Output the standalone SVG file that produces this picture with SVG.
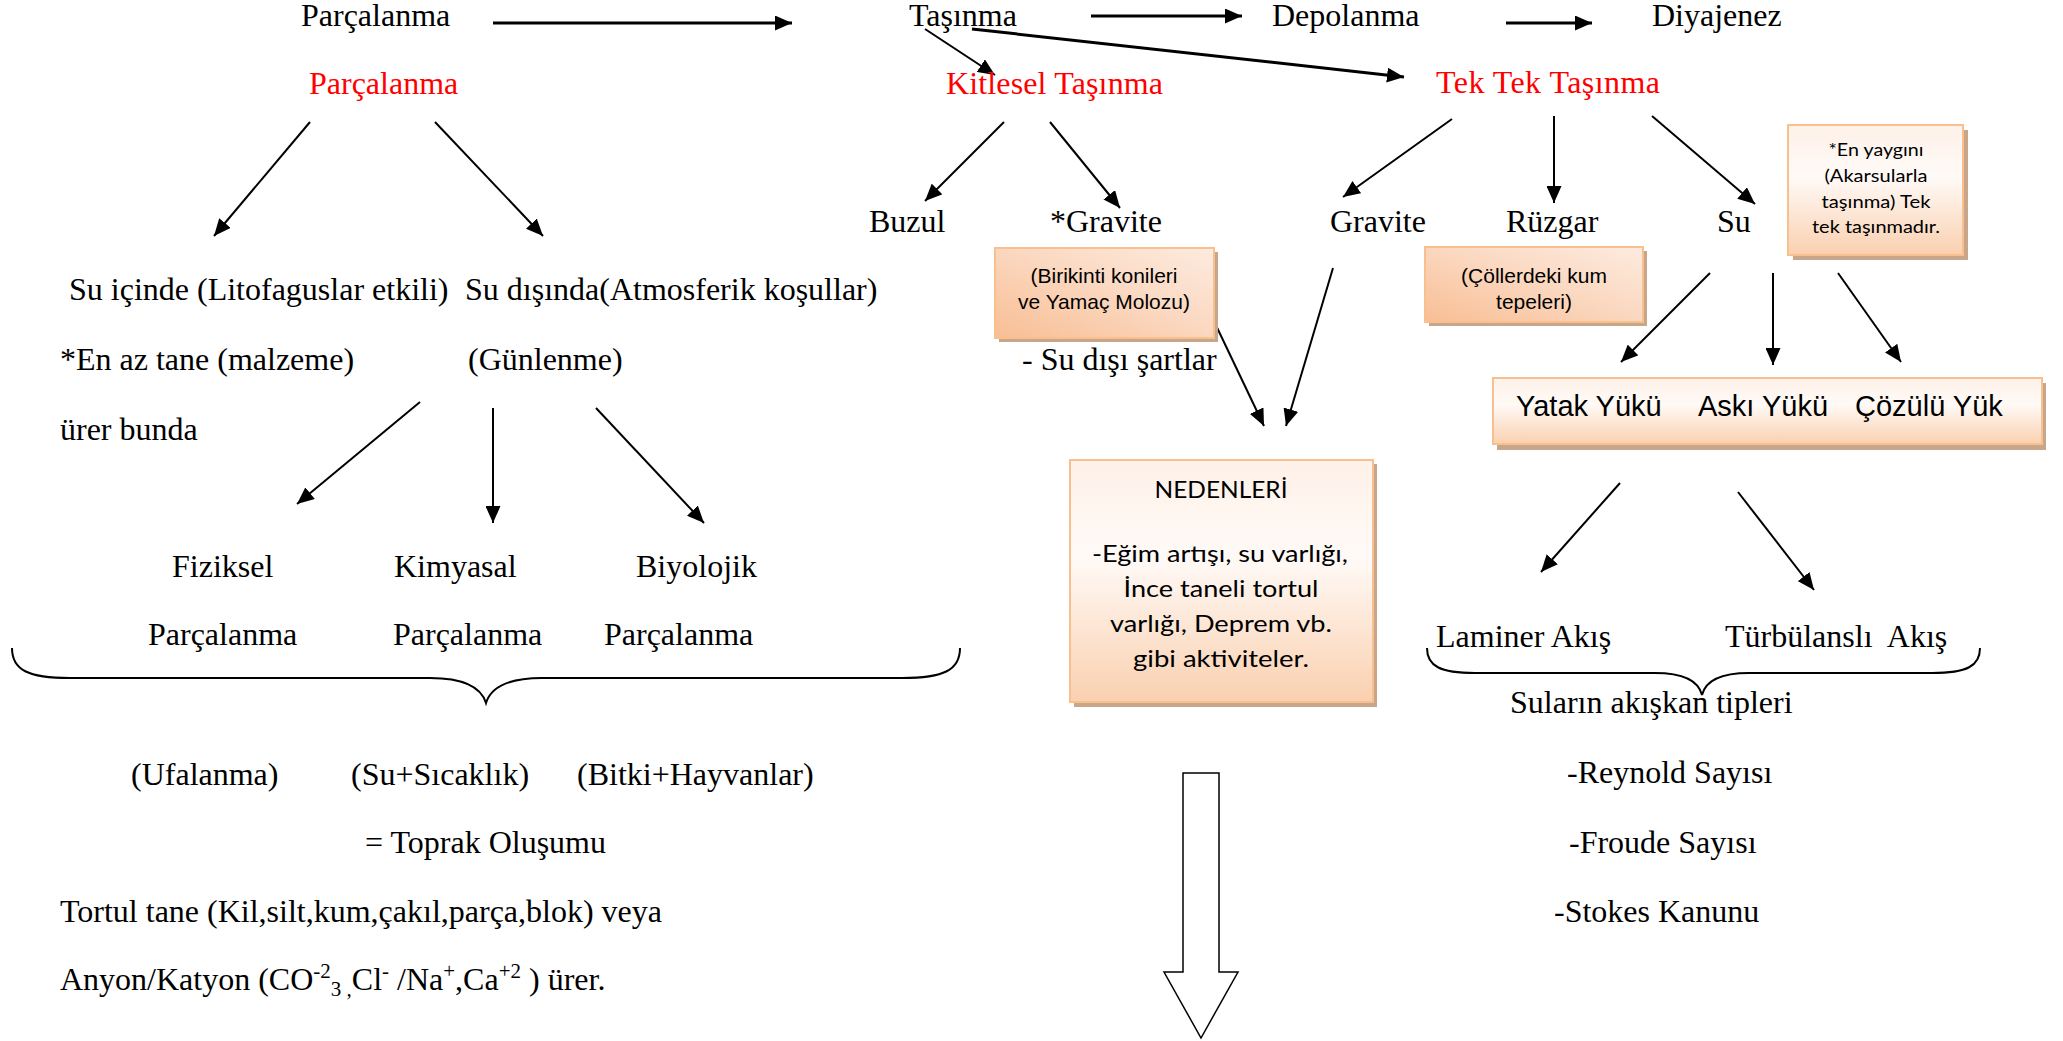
<svg xmlns="http://www.w3.org/2000/svg" width="2063" height="1041" viewBox="0 0 2063 1041">
<style>
.t{font-family:"Liberation Serif","Times New Roman",serif;font-size:32px;fill:#000}
.r{fill:#FF0000}
.a{font-family:"Liberation Sans",Arial,sans-serif;fill:#000}
.c{font-family:Lato,"Open Sans",sans-serif;fill:#000}
.ln{stroke:#000;stroke-width:2;fill:none}
.th{stroke-width:3}
.box{stroke:#F9C08F;stroke-width:2}
.sh{fill:#C9A68A}
</style>
<defs>
<marker id="ah" markerUnits="userSpaceOnUse" markerWidth="18" markerHeight="15" refX="17" refY="7.5" orient="auto">
<path d="M0,0 L17,7.5 L0,15 z" fill="#000"/>
</marker>
<linearGradient id="gd" x1="0" y1="1" x2="1" y2="0">
<stop offset="0" stop-color="#F8BE94"/>
<stop offset="0.55" stop-color="#FBD9C2"/>
<stop offset="1" stop-color="#FDEBDF"/>
</linearGradient>
<linearGradient id="gv" x1="0" y1="0" x2="0" y2="1">
<stop offset="0" stop-color="#FEF1E8"/>
<stop offset="0.4" stop-color="#FFFAF7"/>
<stop offset="1" stop-color="#FAD0AF"/>
</linearGradient>
</defs>

<g id="connectors">
<line class="ln th" x1="493" y1="23" x2="792" y2="23" marker-end="url(#ah)"/>
<line class="ln th" x1="1091" y1="16" x2="1242" y2="16" marker-end="url(#ah)"/>
<line class="ln th" x1="1506" y1="23" x2="1592" y2="23" marker-end="url(#ah)"/>
<line class="ln th" x1="972" y1="29" x2="1404" y2="77" marker-end="url(#ah)"/>
<line class="ln" x1="925" y1="29" x2="995" y2="75" marker-end="url(#ah)"/>
<line class="ln" x1="310" y1="122" x2="214" y2="236" marker-end="url(#ah)"/>
<line class="ln" x1="435" y1="122" x2="543" y2="236" marker-end="url(#ah)"/>
<line class="ln" x1="1004" y1="122" x2="925" y2="201" marker-end="url(#ah)"/>
<line class="ln" x1="1050" y1="122" x2="1120" y2="208" marker-end="url(#ah)"/>
<line class="ln" x1="1452" y1="119" x2="1343" y2="197" marker-end="url(#ah)"/>
<line class="ln" x1="1554" y1="116" x2="1554" y2="203" marker-end="url(#ah)"/>
<line class="ln" x1="1652" y1="116" x2="1755" y2="204" marker-end="url(#ah)"/>
<line class="ln" x1="420" y1="402" x2="297" y2="504" marker-end="url(#ah)"/>
<line class="ln" x1="493" y1="408" x2="493" y2="523" marker-end="url(#ah)"/>
<line class="ln" x1="596" y1="408" x2="704" y2="523" marker-end="url(#ah)"/>
<line class="ln" x1="1212" y1="317" x2="1264" y2="426" marker-end="url(#ah)"/>
<line class="ln" x1="1333" y1="268" x2="1286" y2="426" marker-end="url(#ah)"/>
<line class="ln" x1="1710" y1="273" x2="1621" y2="362" marker-end="url(#ah)"/>
<line class="ln" x1="1773" y1="273" x2="1773" y2="365" marker-end="url(#ah)"/>
<line class="ln" x1="1838" y1="273" x2="1901" y2="362" marker-end="url(#ah)"/>
<line class="ln" x1="1620" y1="483" x2="1541" y2="572" marker-end="url(#ah)"/>
<line class="ln" x1="1738" y1="492" x2="1814" y2="590" marker-end="url(#ah)"/>
<path class="ln" d="M12,648 C12,670 28,678 70,678 L430,678 C468,678 482,690 486,703 C490,690 504,678 542,678 L902,678 C944,678 960,670 960,648"/>
<path class="ln" d="M1427,648 C1427,666 1440,673 1475,673 L1655,673 C1688,673 1699,683 1702,695 C1705,683 1716,673 1749,673 L1932,673 C1967,673 1980,666 1980,648"/>
<polygon points="1183,773 1219,773 1219,972 1238,972 1201,1038 1164,972 1183,972" fill="#fff" stroke="#000" stroke-width="1.5"/>
</g>

<g id="n-parcalanma-top"><text class="t" x="301" y="26">Parçalanma</text></g>
<g id="n-tasinma"><text class="t" x="909" y="26">Taşınma</text></g>
<g id="n-depolanma"><text class="t" x="1272" y="26">Depolanma</text></g>
<g id="n-diyajenez"><text class="t" x="1652" y="26">Diyajenez</text></g>

<g id="n-parcalanma-red"><text class="t r" x="309" y="94">Parçalanma</text></g>
<g id="n-kitlesel"><text class="t r" x="946" y="94" textLength="217" lengthAdjust="spacing">Kitlesel Taşınma</text></g>
<g id="n-tektek"><text class="t r" x="1436" y="93" textLength="224" lengthAdjust="spacing">Tek Tek Taşınma</text></g>

<g id="n-buzul"><text class="t" x="869" y="232">Buzul</text></g>
<g id="n-gravite1"><text class="t" x="1050" y="232">*Gravite</text></g>
<g id="n-gravite2"><text class="t" x="1330" y="232">Gravite</text></g>
<g id="n-ruzgar"><text class="t" x="1506" y="232">Rüzgar</text></g>
<g id="n-su"><text class="t" x="1717" y="232">Su</text></g>

<g id="n-enyaygini">
<rect class="sh" x="1793" y="130" width="175" height="130"/>
<rect class="box" x="1788" y="125" width="175" height="130" fill="url(#gv)"/>
<text class="c" font-size="18" text-anchor="middle" x="1876" y="156" textLength="95" lengthAdjust="spacingAndGlyphs">*En yaygını</text>
<text class="c" font-size="18" text-anchor="middle" x="1876" y="182" textLength="103" lengthAdjust="spacingAndGlyphs">(Akarsularla</text>
<text class="c" font-size="18" text-anchor="middle" x="1876" y="208" textLength="109" lengthAdjust="spacingAndGlyphs">taşınma) Tek</text>
<text class="c" font-size="18" text-anchor="middle" x="1876" y="233" textLength="128" lengthAdjust="spacingAndGlyphs">tek taşınmadır.</text>
</g>

<g id="n-birikinti">
<rect class="sh" x="999" y="252" width="219" height="90"/>
<rect class="box" x="995" y="248" width="219" height="90" fill="url(#gd)"/>
<text class="a" font-size="21" text-anchor="middle" x="1104" y="283">(Birikinti konileri</text>
<text class="a" font-size="21" text-anchor="middle" x="1104" y="309">ve Yamaç Molozu)</text>
</g>

<g id="n-collerdeki">
<rect class="sh" x="1429" y="251" width="218" height="75"/>
<rect class="box" x="1425" y="247" width="218" height="75" fill="url(#gd)"/>
<text class="a" font-size="21" text-anchor="middle" x="1534" y="283">(Çöllerdeki kum</text>
<text class="a" font-size="21" text-anchor="middle" x="1534" y="309">tepeleri)</text>
</g>

<g id="n-susartlar"><text class="t" x="1022" y="370">- Su dışı şartlar</text></g>

<g id="n-yuk">
<rect class="sh" x="1497" y="383" width="549" height="67"/>
<rect class="box" x="1493" y="378" width="549" height="66" fill="url(#gv)"/>
<text class="a" font-size="29" x="1516" y="416">Yatak Yükü</text>
<text class="a" font-size="29" x="1698" y="416">Askı Yükü</text>
<text class="a" font-size="29" x="1855" y="416">Çözülü Yük</text>
</g>

<g id="n-nedenleri">
<rect class="sh" x="1074" y="464" width="303" height="243"/>
<rect class="box" x="1070" y="460" width="303" height="242" fill="url(#gv)"/>
<text class="c" font-size="24" text-anchor="middle" x="1221" y="498" textLength="133" lengthAdjust="spacingAndGlyphs">NEDENLERİ</text>
<text class="c" font-size="24" text-anchor="middle" x="1220" y="562" textLength="256" lengthAdjust="spacingAndGlyphs">-Eğim artışı, su varlığı,</text>
<text class="c" font-size="24" text-anchor="middle" x="1221" y="597" textLength="195" lengthAdjust="spacingAndGlyphs">İnce taneli tortul</text>
<text class="c" font-size="24" text-anchor="middle" x="1221" y="632" textLength="222" lengthAdjust="spacingAndGlyphs">varlığı, Deprem vb.</text>
<text class="c" font-size="24" text-anchor="middle" x="1221" y="667" textLength="176" lengthAdjust="spacingAndGlyphs">gibi aktiviteler.</text>
</g>

<g id="n-su-icinde"><text class="t" x="69" y="300">Su içinde (Litofaguslar etkili)</text></g>
<g id="n-su-disinda"><text class="t" x="465" y="300">Su dışında(Atmosferik koşullar)</text></g>
<g id="n-en-az"><text class="t" x="60" y="370">*En az tane (malzeme)</text><text class="t" x="60" y="440">ürer bunda</text></g>
<g id="n-gunlenme"><text class="t" x="468" y="370">(Günlenme)</text></g>

<g id="n-fiziksel"><text class="t" x="172" y="577">Fiziksel</text><text class="t" x="148" y="645">Parçalanma</text></g>
<g id="n-kimyasal"><text class="t" x="394" y="577">Kimyasal</text><text class="t" x="393" y="645">Parçalanma</text></g>
<g id="n-biyolojik"><text class="t" x="636" y="577">Biyolojik</text><text class="t" x="604" y="645">Parçalanma</text></g>

<g id="n-sonuclar">
<text class="t" x="131" y="785">(Ufalanma)</text>
<text class="t" x="351" y="785">(Su+Sıcaklık)</text>
<text class="t" x="577" y="785">(Bitki+Hayvanlar)</text>
<text class="t" x="365" y="853">= Toprak Oluşumu</text>
<text class="t" x="60" y="922">Tortul tane (Kil,silt,kum,çakıl,parça,blok) veya</text>
<text class="t" x="60" y="990">Anyon/Katyon (CO<tspan font-size="21" dy="-12">-2</tspan><tspan font-size="21" dy="18">3 ,</tspan><tspan dy="-6">Cl</tspan><tspan font-size="21" dy="-12">-</tspan><tspan dy="12"> /Na</tspan><tspan font-size="21" dy="-12">+</tspan><tspan dy="12">,Ca</tspan><tspan font-size="21" dy="-12">+2</tspan><tspan dy="12"> ) ürer.</tspan></text>
</g>

<g id="n-laminer"><text class="t" x="1436" y="647">Laminer Akış</text></g>
<g id="n-turbulansli"><text class="t" x="1725" y="647">Türbülanslı&#160; Akış</text></g>
<g id="n-akiskan"><text class="t" x="1510" y="713">Suların akışkan tipleri</text></g>
<g id="n-reynold"><text class="t" x="1567" y="783">-Reynold Sayısı</text></g>
<g id="n-froude"><text class="t" x="1569" y="853">-Froude Sayısı</text></g>
<g id="n-stokes"><text class="t" x="1554" y="922">-Stokes Kanunu</text></g>
</svg>
